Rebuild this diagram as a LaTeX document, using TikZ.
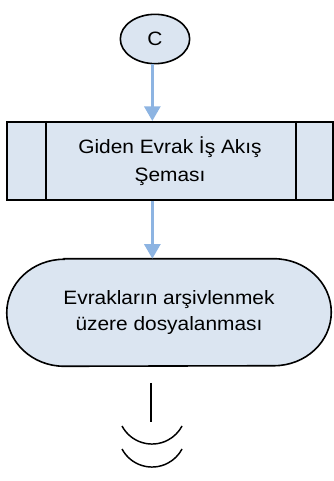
\documentclass[tikz,border=0pt]{standalone}
\usepackage{fontspec}
\newfontfamily\visiofont[FakeStretch=1.08]{Liberation Sans}
\usetikzlibrary{arrows.meta,calc,positioning,shapes.geometric}
\definecolor{boxfill}{RGB}{219,229,241}
\definecolor{flowblue}{RGB}{141,180,226}
\tikzset{
    flow chart/.style = {x=0.75pt, y=0.75pt},
    shape line/.style = {draw=black, line width=1.2pt, fill=boxfill},
    connector/.style  = {shape line, ellipse, minimum width=52pt,
                         minimum height=37pt, inner sep=0pt},
    subprocess/.style = {shape line, line width=1.5pt, rectangle,
                         minimum width=244.5pt, minimum height=58.5pt,
                         inner sep=0pt},
    terminal/.style   = {rectangle, minimum width=243pt,
                         minimum height=80.25pt, inner sep=0pt},
    label text/.style = {font=\visiofont\fontsize{14.5}{21}\selectfont,
                         align=center, text=black},
    flow/.style       = {draw=flowblue, line width=2.2pt,
                         -{Triangle[length=11pt, width=12pt]}},
    break mark/.style = {draw=black, line width=1.1pt}
}
\def\endrx{43}
\def\endry{40.125}

\begin{document}
\begin{tikzpicture}[flow chart]
\useasboundingbox (0,0) rectangle (334,481);

% ================= Off-page connector =================
\node[connector, label text] (C) at (155,442) {C};

% ================= Predefined process =================
\node[subprocess] (procedure) at (170,320) {};
\draw[shape line, line width=1.5pt] ([xshift=30pt]procedure.north west)
    -- ([xshift=30pt]procedure.south west);
\draw[shape line, line width=1.5pt] ([xshift=-28.5pt]procedure.north east)
    -- ([xshift=-28.5pt]procedure.south east);
\node[label text] at (procedure) {Giden Evrak İş Akış\\Şeması};

% ================= Terminator =================
\node[terminal] (archive) at (169,168.5) {};
\draw[shape line] ([xshift=\endrx pt]archive.north west)
    -- ([xshift=-\endrx pt]archive.north east)
    arc[start angle=90, end angle=-90, x radius=\endrx pt, y radius=\endry pt]
    -- ([xshift=\endrx pt]archive.south west)
    arc[start angle=270, end angle=90, x radius=\endrx pt, y radius=\endry pt]
    -- cycle;
\node[label text, font=\visiofont\fontsize{14.5}{19.5}\selectfont]
    at (archive) {Evrakların arşivlenmek\\üzere dosyalanması};

% ================= Flow arrows =================
\draw[flow] ([xshift=-2pt]C.south) -- ([xshift=-2pt]C.south |- procedure.north);
\draw[flow] ([xshift=-2pt]procedure.south -| C) -- ([xshift=-2pt]archive.north -| C);

% ================= Page break mark =================
\coordinate (cut top) at (151,98);
\coordinate (cut bottom) at (151,59);
\draw[break mark] (cut top) -- (cut bottom);
\draw[break mark] (122,55) arc[start angle=208, end angle=332, radius=34];
\draw[break mark] (122,32) arc[start angle=208, end angle=332, radius=34];

\end{tikzpicture}
\end{document}
